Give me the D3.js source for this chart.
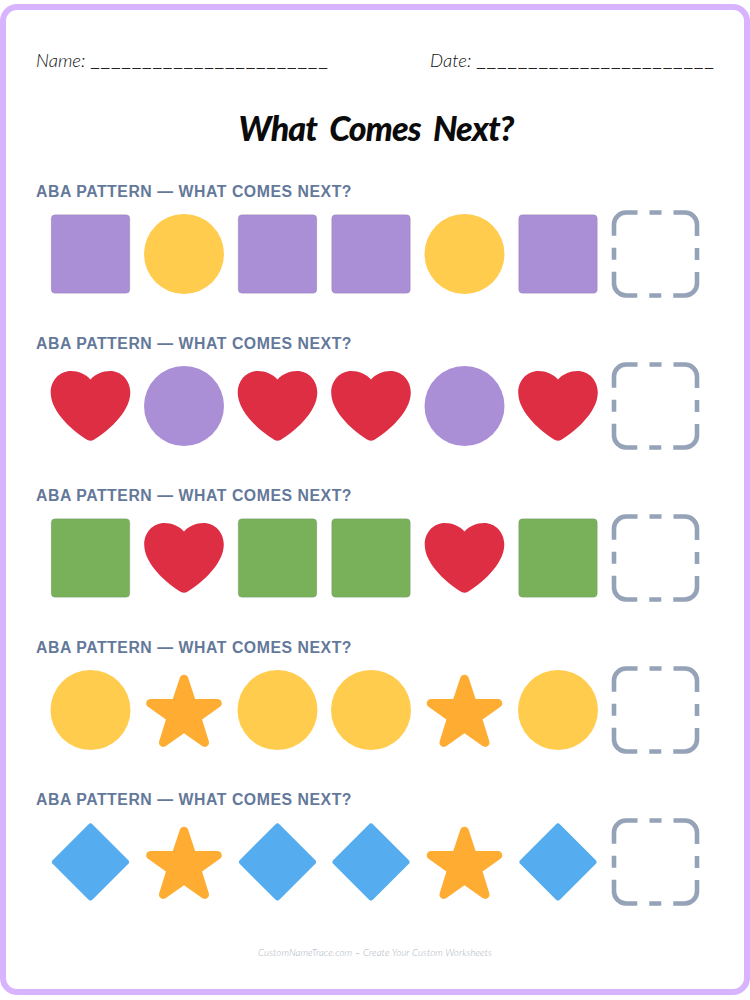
<!DOCTYPE html>
<html><head><meta charset="utf-8">
<script src="https://cdn.jsdelivr.net/npm/d3@7/dist/d3.min.js"></script>
<style>html,body{margin:0;padding:0;background:#fff}svg{display:block}</style>
</head><body>
<svg id="c" width="750" height="1000"></svg>
<script>
const title = "What Comes Next?";
const rowLabels = ["ABA PATTERN — WHAT COMES NEXT?","ABA PATTERN — WHAT COMES NEXT?","ABA PATTERN — WHAT COMES NEXT?","ABA PATTERN — WHAT COMES NEXT?","ABA PATTERN — WHAT COMES NEXT?"];
const shapeA = ["purpleSquare","heart","greenSquare","yellowCircle","blueDiamond"];
const shapeB = ["yellowCircle","purpleCircle","heart","star","star"];
const sequence = ["A","B","A","A","B","A"];
const footer = "CustomNameTrace.com – Create Your Custom Worksheets";

const svg = d3.select("#c");
const x = d3.scaleLinear().domain([0,5]).range([90.5,558]);
const y = d3.scaleLinear().domain([0,4]).range([254,862]);

const HEART = "M0,-26.5 C-5,-32 -12,-35 -19.5,-35 C-31,-35 -39.8,-25.5 -39.8,-13.5 C-39.8,7 -15,27 -3,34 Q0,35.5 3,34 C15,27 39.8,7 39.8,-13.5 C39.8,-25.5 31,-35 19.5,-35 C12,-35 5,-32 0,-26.5 Z";
const STAR = "M27.287 34.627c-.404 0-.806-.124-1.152-.371L18 28.422l-8.135 5.834c-.693.496-1.623.496-2.312-.008-.689-.499-.979-1.385-.721-2.194l3.034-9.792-8.062-5.681c-.685-.505-.97-1.393-.708-2.203.264-.808 1.016-1.357 1.866-1.363L12.947 13l3.179-9.549c.268-.809 1.023-1.353 1.874-1.353.851 0 1.606.545 1.875 1.353L23 13l10.036.015c.853.006 1.606.556 1.867 1.363.263.81-.022 1.698-.708 2.203l-8.062 5.681 3.034 9.792c.26.809-.033 1.695-.72 2.194-.347.254-.753.379-1.16.379z";

function drawSquare(g,color){
  g.append("rect").attr("x",-39.3).attr("y",-39.3).attr("width",78.6).attr("height",78.6).attr("rx",4)
   .attr("fill",color).attr("stroke","#6f6f80").attr("stroke-opacity",.35).attr("stroke-width",.6);
}
function drawCircle(g,color){ g.append("circle").attr("r",40).attr("fill",color); }
function drawEmoji(g,d,color){
  g.append("path").attr("d",d).attr("fill",color).attr("transform","scale(2.2222) translate(-18,-18)");
}
function drawDiamond(g,color){
  g.append("rect").attr("x",-28.1).attr("y",-28.1).attr("width",56.2).attr("height",56.2).attr("rx",3)
   .attr("fill",color).attr("transform","rotate(45)");
}
const shapes = {
  purpleSquare:g=>drawSquare(g,"#AA8ED6"),
  greenSquare:g=>drawSquare(g,"#78B159"),
  yellowCircle:g=>drawCircle(g,"#FFCC4D"),
  purpleCircle:g=>drawCircle(g,"#AA8ED6"),
  heart:g=>g.append("path").attr("d",HEART).attr("fill","#DD2E44"),
  star:g=>drawEmoji(g,STAR,"#FFAC33"),
  blueDiamond:g=>drawDiamond(g,"#55ACEE")
};

svg.append("rect").attr("x",3).attr("y",7).attr("width",744).attr("height",985).attr("rx",14)
  .attr("fill","#fff").attr("stroke","#D8B4FE").attr("stroke-width",6);

const hand = "Lato";
function head(lab,lx,ux,uw){
  svg.append("text").attr("x",lx).attr("y",67).attr("font-family",hand).attr("font-style","italic")
    .attr("font-weight",300).attr("font-size",18.5).attr("fill","#111").text(lab);
  svg.append("text").attr("x",ux).attr("y",66).attr("font-family","Liberation Sans")
    .attr("font-size",14.5).attr("fill","#222").attr("textLength",uw).attr("lengthAdjust","spacing")
    .text("_".repeat(23));
}
head("Name:",36,91,236);
head("Date:",430,477,236);

svg.append("text").attr("x",376).attr("y",141).attr("text-anchor","middle")
  .attr("font-family",hand).attr("font-style","italic").attr("font-weight",900)
  .attr("font-size",34).attr("letter-spacing",-.9).attr("word-spacing",6).attr("fill","#0b0b0b").text(title);

rowLabels.forEach((lab,i)=>{
  const cy = y(i);
  svg.append("text").attr("x",36).attr("y",cy-57).attr("font-family","Liberation Sans")
    .attr("font-weight",700).attr("font-size",15.8).attr("letter-spacing",.55).attr("fill","#64789A").text(lab);
  sequence.forEach((s,k)=>{
    const g = svg.append("g").attr("transform",`translate(${x(k)},${cy})`);
    shapes[(s==="A"?shapeA:shapeB)[i]](g);
  });
  const w=83,r=12,per=(4*(w-2*r)+2*Math.PI*r)/4,dash=12,gap=12,L=per-dash-2*gap;
  svg.append("rect").attr("x",x(5)+97.5-w/2).attr("y",cy-w/2).attr("width",w).attr("height",w).attr("rx",r)
    .attr("fill","none").attr("stroke","#94A3B8").attr("stroke-width",4.6)
    .attr("stroke-dasharray",`${dash} ${gap} ${L} ${gap}`)
    .attr("stroke-dashoffset",dash+gap+L-(w/2-r-dash/2-gap));
});

svg.append("text").attr("x",375).attr("y",956).attr("text-anchor","middle")
  .attr("font-family",hand).attr("font-style","italic").attr("font-weight",300)
  .attr("font-size",9.6).attr("letter-spacing",.12).attr("fill","#A8B0BC").text(footer);
</script>
</body></html>
